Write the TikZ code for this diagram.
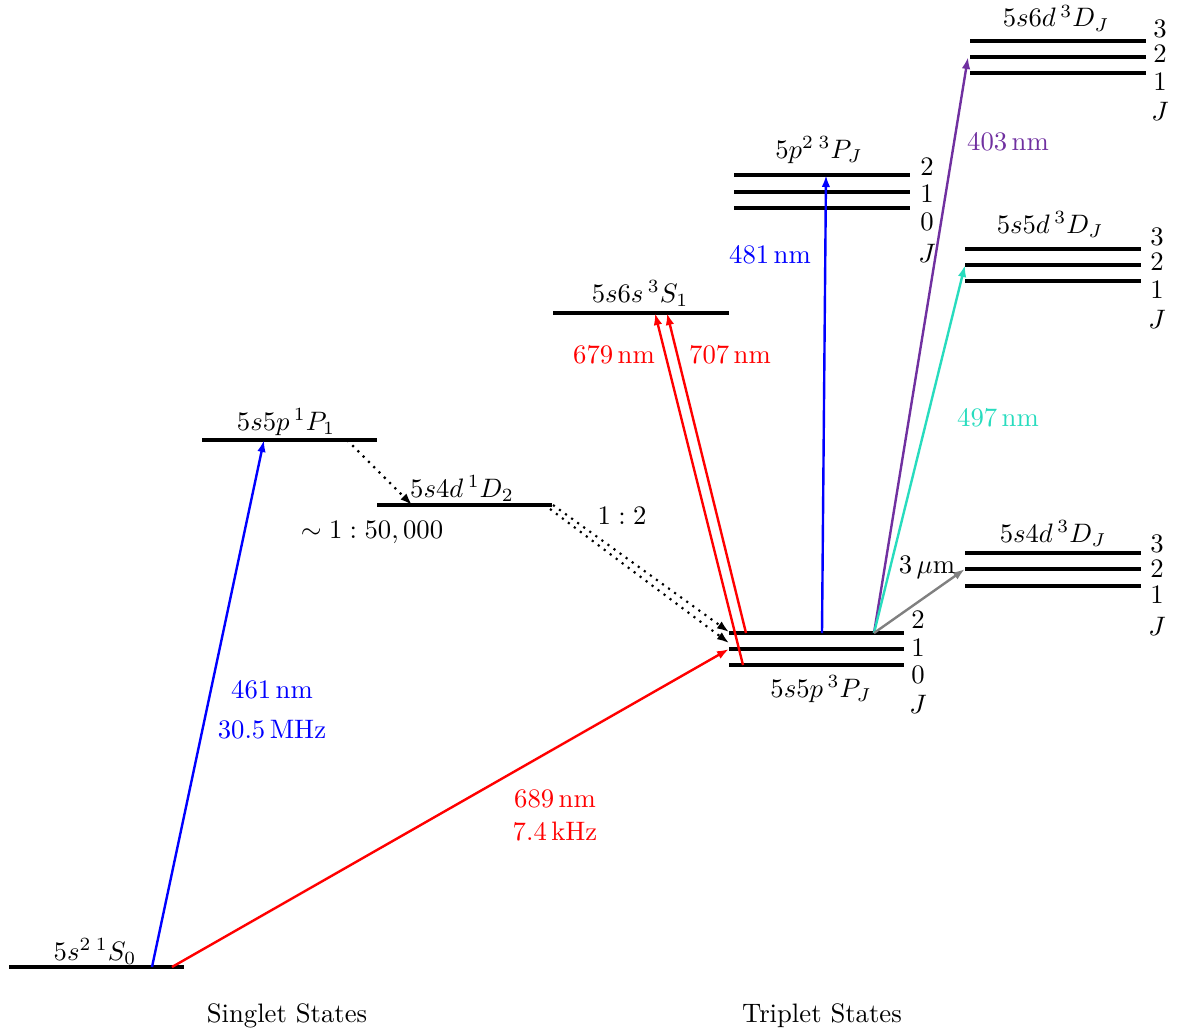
\documentclass[tikz,border=0pt]{standalone}
\usetikzlibrary{arrows.meta}
\definecolor{violetline}{RGB}{112,48,160}
\definecolor{tealline}{RGB}{40,220,190}
\begin{document}
\begin{tikzpicture}[x=0.3747pt,y=-0.3747pt,
  lvl/.style={line width=1.5pt},
  trans/.style={line width=0.9pt,-{Latex[length=4.5pt,width=3.2pt]}},
  decay/.style={line width=0.8pt,dotted,-{Latex[length=4.5pt,width=3.2pt]}},
  txt/.style={inner sep=0pt,anchor=base}]
\useasboundingbox (0,0) rectangle (1177,1032);

% ---- level endpoints ----
\coordinate (S0a) at (9,967);   \coordinate (S0b) at (184,967);
\coordinate (P1a) at (202,440); \coordinate (P1b) at (377,440);
\coordinate (D2a) at (377,505); \coordinate (D2b) at (552,505);
\coordinate (S1a) at (553,313); \coordinate (S1b) at (729,313);
\coordinate (PJ2a) at (729,633); \coordinate (PJ2b) at (904,633);
\coordinate (PJ1a) at (729,649); \coordinate (PJ1b) at (904,649);
\coordinate (PJ0a) at (729,665); \coordinate (PJ0b) at (904,665);
\coordinate (QJ2a) at (734,175); \coordinate (QJ2b) at (910,175);
\coordinate (QJ1a) at (734,192); \coordinate (QJ1b) at (910,192);
\coordinate (QJ0a) at (734,208); \coordinate (QJ0b) at (910,208);
\coordinate (SDa3) at (970,41); \coordinate (SDb3) at (1146,41);
\coordinate (SDa2) at (970,57); \coordinate (SDb2) at (1146,57);
\coordinate (SDa1) at (970,73); \coordinate (SDb1) at (1146,73);
\coordinate (FDa3) at (965,249); \coordinate (FDb3) at (1141,249);
\coordinate (FDa2) at (965,265); \coordinate (FDb2) at (1141,265);
\coordinate (FDa1) at (965,281); \coordinate (FDb1) at (1141,281);
\coordinate (UDa3) at (965,553); \coordinate (UDb3) at (1141,553);
\coordinate (UDa2) at (965,569); \coordinate (UDb2) at (1141,569);
\coordinate (UDa1) at (965,586); \coordinate (UDb1) at (1141,586);

% ---- levels ----
\foreach \a/\b in {S0a/S0b,P1a/P1b,D2a/D2b,S1a/S1b,PJ2a/PJ2b,PJ1a/PJ1b,PJ0a/PJ0b,
  QJ2a/QJ2b,QJ1a/QJ1b,QJ0a/QJ0b,SDa3/SDb3,SDa2/SDb2,SDa1/SDb1,
  FDa3/FDb3,FDa2/FDb2,FDa1/FDb1,UDa3/UDb3,UDa2/UDb2,UDa1/UDb1}
  \draw[lvl] (\a) -- (\b);

% ---- level labels ----
\node[txt] (lS0) at (95,960) {$5s^{2}\,{}^{1}S_0$};
\node[txt] (lP1) at (286,430) {$5s5p\,{}^{1}P_1$};
\node[txt] (lD2) at (462,497) {$5s4d\,{}^{1}D_2$};
\node[txt] (lS1) at (640,302) {$5s6s\,{}^{3}S_1$};
\node[txt] (lPJ) at (821,697) {$5s5p\,{}^{3}P_J$};
\node[txt] (lQJ) at (819,158) {$5p^{2}\,{}^{3}P_J$};
\node[txt] (lSD) at (1056,27) {$5s6d\,{}^{3}D_J$};
\node[txt] (lFD) at (1050,233) {$5s5d\,{}^{3}D_J$};
\node[txt] (lUD) at (1053,542) {$5s4d\,{}^{3}D_J$};

% J labels
\node[txt] (pj2) at (918,628) {$2$};
\node[txt] (pj1) at (918,656) {$1$};
\node[txt] (pj0) at (918,683) {$0$};
\node[txt] (pjJ) at (918,713) {$J$};
\node[txt] (qj2) at (927,175) {$2$};
\node[txt] (qj1) at (927,202) {$1$};
\node[txt] (qj0) at (927,230) {$0$};
\node[txt] (qjJ) at (927,262) {$J$};
\node[txt] (sd3) at (1160,37) {$3$};
\node[txt] (sd2) at (1160,62) {$2$};
\node[txt] (sd1) at (1160,90) {$1$};
\node[txt] (sdJ) at (1160,120) {$J$};
\node[txt] (fd3) at (1157,245) {$3$};
\node[txt] (fd2) at (1157,270) {$2$};
\node[txt] (fd1) at (1157,298) {$1$};
\node[txt] (fdJ) at (1157,328) {$J$};
\node[txt] (ud3) at (1157,552) {$3$};
\node[txt] (ud2) at (1157,577) {$2$};
\node[txt] (ud1) at (1157,603) {$1$};
\node[txt] (udJ) at (1157,635) {$J$};

% ---- transition endpoints ----
\coordinate (t461s) at (152,967); \coordinate (t461e) at (264,440);
\coordinate (t689s) at (172,967); \coordinate (t689e) at (729,649);
\coordinate (d1s) at (347,440);   \coordinate (d1e) at (412,505);
\coordinate (d2s) at (553,505);   \coordinate (d2e) at (729,632);
\coordinate (d3s) at (550,509);   \coordinate (d3e) at (729,643);
\coordinate (t679s) at (743,665); \coordinate (t679e) at (655,313);
\coordinate (t707s) at (746,633); \coordinate (t707e) at (667,313);
\coordinate (t481s) at (822,633); \coordinate (t481e) at (826,175);
\coordinate (tTs) at (874,633);
\coordinate (t403e) at (968,57);
\coordinate (t497e) at (965,265);
\coordinate (t3ue) at (965,569);

% ---- transitions ----
\draw[trans,blue] (t461s) -- (t461e);
\draw[trans,red] (t689s) -- (t689e);
\draw[decay] (d1s) -- (d1e);
\draw[decay] (d2s) -- (d2e);
\draw[decay] (d3s) -- (d3e);
\draw[trans,red] (t679s) -- (t679e);
\draw[trans,red] (t707s) -- (t707e);
\draw[trans,blue] (t481s) -- (t481e);
\draw[trans,violetline] (tTs) -- (t403e);
\draw[trans,tealline] (tTs) -- (t497e);
\draw[trans,gray] (tTs) -- (t3ue);

% ---- transition labels ----
\node[txt,blue] (n461) at (272,698) {461\,nm};
\node[txt,blue] (n305) at (272,738) {30.5\,MHz};
\node[txt,red] (n689) at (555,807) {689\,nm};
\node[txt,red] (n74) at (555,840) {7.4\,kHz};
\node[txt] (r1) at (372,538) {$\sim 1:50,000$};
\node[txt] (r2) at (622,524) {$1:2$};
\node[txt,red] (n679) at (614,363) {679\,nm};
\node[txt,red] (n707) at (730,363) {707\,nm};
\node[txt,blue] (n481) at (770,263) {481\,nm};
\node[txt,violetline] (n403) at (1008,150) {403\,nm};
\node[txt,tealline] (n497) at (998,426) {497\,nm};
\node[txt] (n3u) at (927,573) {$3\,\mu$m};

\node[txt] (sing) at (287,1022) {Singlet States};
\node[txt] (trip) at (822,1022) {Triplet States};
\end{tikzpicture}
\end{document}
